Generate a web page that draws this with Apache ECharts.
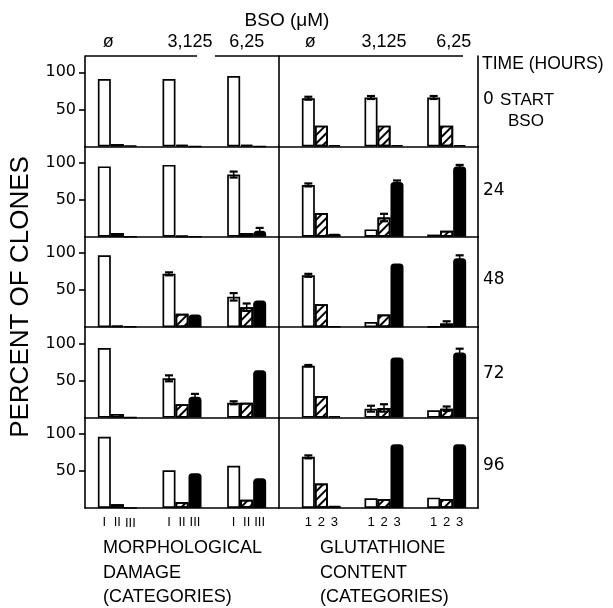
<!DOCTYPE html>
<html><head><meta charset="utf-8">
<script src="https://cdn.jsdelivr.net/npm/echarts@6/dist/echarts.min.js"></script>
<style>html,body{margin:0;padding:0;background:#fff}#c{width:613px;height:608px}</style>
</head><body><div id="c"></div>
<script>
// ---------- data ----------
const times = ['0', '24', '48', '72', '96'];
const bsoLabels = ['ø', '3,125', '6,25'];
const morphCats = ['I', 'II', 'III'];
const gshCats = ['1', '2', '3'];
const yTicks = [50, 100];

// percent of clones: rows = category, columns = BSO (ø, 3,125, 6,25)
const morph0  = [[91, 91, 95], [3, 2, 2], [1, 0, 0]];
const morph24 = [[95, 97, 84], [5, 1, 5], [0, 0, 8]];
const morph48 = [[97, 72, 41], [2, 18, 27], [1, 17, 36]];
const morph72 = [[94, 53, 20], [5, 18, 20], [0, 28, 64]];
const morph96 = [[96, 51, 57], [5, 8, 11], [0, 47, 40]];

const gsh0  = [[65, 66, 66], [28, 28, 28], [2, 2, 2]];
const gsh24 = [[70, 10, 3], [32, 26, 8], [4, 74, 95]];
const gsh48 = [[70, 7, 1], [31, 17, 5], [1, 86, 93]];
const gsh72 = [[70, 12, 10], [29, 13, 12], [2, 81, 88]];
const gsh96 = [[69, 13, 14], [33, 12, 12], [3, 86, 86]];

// error bars (same layout, 0 = none)
const morphErr0  = [[0, 0, 0], [0, 0, 0], [0, 0, 0]];
const morphErr24 = [[0, 0, 4], [0, 0, 0], [0, 0, 4]];
const morphErr48 = [[0, 2, 5], [0, 0, 5], [0, 0, 0]];
const morphErr72 = [[0, 4, 2], [0, 0, 0], [0, 4, 0]];
const morphErr96 = [[0, 0, 0], [0, 0, 0], [0, 0, 0]];

const gshErr0  = [[2, 2, 2], [0, 0, 0], [0, 0, 0]];
const gshErr24 = [[2, 0, 0], [0, 5, 0], [0, 2, 2]];
const gshErr48 = [[2, 0, 0], [0, 0, 3], [0, 0, 4]];
const gshErr72 = [[1, 4, 0], [0, 5, 3], [0, 0, 5]];
const gshErr96 = [[2, 0, 0], [0, 0, 0], [0, 0, 0]];

const morphValues = [morph0, morph24, morph48, morph72, morph96];
const gshValues = [gsh0, gsh24, gsh48, gsh72, gsh96];
const morphErrors = [morphErr0, morphErr24, morphErr48, morphErr72, morphErr96];
const gshErrors = [gshErr0, gshErr24, gshErr48, gshErr72, gshErr96];

// ---------- layout / style ----------
const FONT = 'Liberation Sans';
const BAR_W = 13;
const Y_MAX = 122;
const ROW_H = 90.4;
const TOP0 = 56;
const LEFT_X = 85, MID_X = 279, RIGHT_GRID_X = 290, RIGHT_X = 478;
const LINE = { color: '#000', width: 1.6 };

const barStyles = [
  { color: '#fff', borderColor: '#000', borderWidth: 1.7 },
  { color: '#fff', borderColor: '#000', borderWidth: 1.7,
    decal: { symbol: 'rect', symbolSize: 1, dashArrayX: [1, 0], dashArrayY: [1.6, 3.6],
             rotation: -Math.PI / 4, color: '#000' } },
  { color: '#000', borderColor: '#000', borderWidth: 1.5, borderRadius: [3, 3, 0, 0] }
];

// horizontal nudges of the top concentration labels (px of padding)
const topLabelPad = {
  left:  [[0, 18, 0, 0], [0, 0, 0, 16], [0, 0, 0, 0]],
  right: [[0, 22, 0, 0], [0, 0, 0, 0], [0, 0, 0, 14]]
};

const grid = [], xAxis = [], yAxis = [], series = [];

function renderErr(params, api) {
  const c = api.value(0), v = api.value(1), e = api.value(2), k = api.value(3);
  const top = api.coord([c, v + e]);
  const bot = api.coord([c, Math.max(v - e, 0)]);
  const x = top[0] + (k - 1) * BAR_W;
  const st = { stroke: '#000', lineWidth: 1.5 };
  return { type: 'group', children: [
    { type: 'line', shape: { x1: x, y1: top[1], x2: x, y2: bot[1] }, style: st },
    { type: 'line', shape: { x1: x - 4, y1: top[1], x2: x + 4, y2: top[1] }, style: { stroke: '#000', lineWidth: 2.2 } },
    { type: 'line', shape: { x1: x - 4, y1: bot[1], x2: x + 4, y2: bot[1] }, style: { stroke: '#000', lineWidth: 2.2 } }
  ]};
}

function addPanel(row, left, width, values, errors, cats, isLeft) {
  const top = TOP0 + row * ROW_H;
  const gi = grid.length;
  grid.push({ left: left, top: top, width: width, height: ROW_H });
  const xi = xAxis.length;
  xAxis.push({ gridIndex: gi, type: 'category', data: bsoLabels, show: false });
  if (row === 0) {
    const pads = isLeft ? topLabelPad.left : topLabelPad.right;
    const rich = {};
    pads.forEach((p, i) => { rich['s' + i] = { padding: p, fontFamily: FONT, fontSize: 18, color: '#000' }; });
    xAxis.push({ gridIndex: gi, type: 'category', data: bsoLabels, position: 'top',
      axisLine: { show: false }, axisTick: { show: false },
      axisLabel: { interval: 0, hideOverlap: false, fontFamily: FONT, fontSize: 18, color: '#000', margin: 5,
        formatter: (v, i) => '{s' + i + '|' + v + '}', rich: rich } });
  }
  const yi = yAxis.length;
  if (isLeft) {
    yAxis.push({ gridIndex: gi, type: 'value', min: 0, max: Y_MAX, position: 'left',
      axisLine: { show: true, lineStyle: LINE },
      axisTick: { show: true, inside: false, length: 6, customValues: yTicks, lineStyle: LINE },
      axisLabel: { customValues: yTicks, fontFamily: 'DejaVu Sans', fontSize: 16, color: '#000', margin: 9 },
      splitLine: { show: false } });
    yAxis.push({ gridIndex: gi, type: 'value', min: 0, max: Y_MAX, position: 'right',
      axisLine: { show: true, lineStyle: LINE }, axisTick: { show: false },
      axisLabel: { show: false }, splitLine: { show: false } });
  } else {
    yAxis.push({ gridIndex: gi, type: 'value', min: 0, max: Y_MAX, show: false, splitLine: { show: false } });
  }
  const errData = [];
  for (let k = 0; k < 3; k++) {
    series.push({
      type: 'bar', name: cats[k], xAxisIndex: xi, yAxisIndex: yi,
      data: values[k], barWidth: BAR_W, barGap: '0%',
      itemStyle: barStyles[k],
      label: row === 4 ? { show: true, position: 'bottom', distance: 8, formatter: cats[k],
        fontFamily: FONT, fontSize: 13, color: '#000' } : { show: false }
    });
    for (let c = 0; c < 3; c++) {
      if (errors[k][c] > 0) errData.push([c, values[k][c], errors[k][c], k]);
    }
  }
  if (errData.length) {
    series.push({ type: 'custom', xAxisIndex: xi, yAxisIndex: yi, data: errData,
      encode: { x: 0, y: 1 }, renderItem: renderErr, z: 5 });
  }
}

for (let r = 0; r < 5; r++) {
  // frame (baseline across both panels + right border)
  const top = TOP0 + r * ROW_H;
  const gi = grid.length;
  grid.push({ left: LEFT_X, top: top, width: RIGHT_X - LEFT_X, height: ROW_H });
  xAxis.push({ gridIndex: gi, type: 'category', data: [''],
    axisLine: { show: true, lineStyle: LINE }, axisTick: { show: false }, axisLabel: { show: false } });
  yAxis.push({ gridIndex: gi, type: 'value', min: 0, max: Y_MAX, position: 'right',
    axisLine: { show: true, lineStyle: LINE }, axisTick: { show: false },
    axisLabel: { show: false }, splitLine: { show: false } });
  addPanel(r, LEFT_X, MID_X - LEFT_X, morphValues[r], morphErrors[r], morphCats, true);
  addPanel(r, RIGHT_GRID_X, RIGHT_X - RIGHT_GRID_X, gshValues[r], gshErrors[r], gshCats, false);
}

const txt = (t, x, y, size, extra) => Object.assign({ type: 'text', x: x, y: y,
  style: Object.assign({ text: t, fontFamily: FONT, fontSize: size, fill: '#000',
    verticalAlign: 'middle' }, extra || {}) });

const rowLabelY = [100, 191, 280, 374, 466];
const graphic = [
  txt('BSO (μM)', 287, 21, 19, { align: 'center' }),
  { type: 'line', shape: { x1: 85, y1: TOP0, x2: 197, y2: TOP0 }, style: { stroke: '#000', lineWidth: 1.6 } },
  { type: 'line', shape: { x1: 215, y1: TOP0, x2: 463, y2: TOP0 }, style: { stroke: '#000', lineWidth: 1.6 } },
  txt('TIME (HOURS)', 482, 64, 17.5),
  txt('START', 500, rowLabelY[0], 17),
  txt('BSO', 508, 121, 17),
  txt('MORPHOLOGICAL', 103, 548, 18),
  txt('DAMAGE', 103, 573, 18),
  txt('(CATEGORIES)', 103, 597, 18),
  txt('GLUTATHIONE', 320, 548, 18),
  txt('CONTENT', 320, 573, 18),
  txt('(CATEGORIES)', 320, 597, 18),
  { type: 'text', x: 21, y: 297, rotation: Math.PI / 2,
    style: { text: 'PERCENT OF CLONES', fontFamily: FONT, fontSize: 26, fill: '#000',
      align: 'center', verticalAlign: 'middle' } }
];
times.forEach((t, i) => graphic.push(txt(t, 483, rowLabelY[i], 17, { fontFamily: 'DejaVu Sans' })));

const chart = echarts.init(document.getElementById('c'), null, { renderer: 'canvas' });
chart.setOption({
  animation: false,
  backgroundColor: '#fff',
  grid: grid, xAxis: xAxis, yAxis: yAxis, series: series, graphic: graphic
});
</script>
</body></html>
